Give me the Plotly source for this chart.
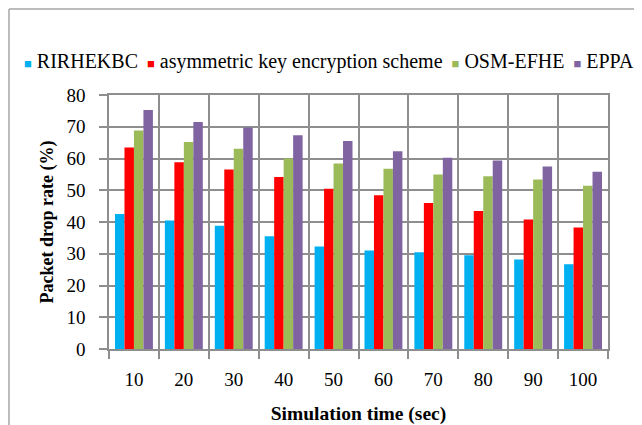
import plotly.graph_objects as go

categories = ["10", "20", "30", "40", "50", "60", "70", "80", "90", "100"]
series_names = ["RIRHEKBC", "asymmetric key encryption scheme", "OSM-EFHE", "EPPA"]
rirhekbc = [42.5, 40.5, 38.8, 35.5, 32.3, 31.0, 30.5, 29.5, 28.2, 26.7]
asym_key = [63.5, 58.8, 56.5, 54.2, 50.5, 48.4, 46.0, 43.5, 40.8, 38.3]
osm_efhe = [68.8, 65.2, 63.1, 60.0, 58.4, 56.8, 55.0, 54.4, 53.4, 51.4]
eppa = [75.3, 71.5, 69.8, 67.3, 65.5, 62.3, 60.2, 59.4, 57.5, 55.8]
y_ticks = [0, 10, 20, 30, 40, 50, 60, 70, 80]
colors = ["#00B0F0", "#FF0000", "#9BBB59", "#8064A2"]

# the page body keeps its default 8px margin, so the figure is drawn 8px in
OFF = 8
W, H = 642 - OFF, 425 - OFF
L, R, T, B = 101, 34, 87, 76
PW, PH = W - L - R, H - T - B


def px(xs):
    return (xs - OFF - L) / PW


def py(ys):
    return (H - B - (ys - OFF)) / PH


FONT = "Liberation Serif, Times New Roman, serif"

fig = go.Figure()
for name, vals, col in zip(series_names, [rirhekbc, asym_key, osm_efhe, eppa], colors):
    fig.add_trace(go.Bar(x=categories, y=vals, name=name, marker=dict(color=col, line=dict(width=0)),
                         showlegend=False))

legend_text = "\u2009 ".join(
    f'<span style="color:{c};font-size:13px">■</span> {n}' for n, c in zip(series_names, colors)
)

fig.update_layout(
    width=W, height=H,
    margin=dict(l=L, r=R, t=T, b=B),
    paper_bgcolor="white", plot_bgcolor="white",
    barmode="group", bargap=0.24, bargroupgap=0,
    font=dict(family=FONT, size=19, color="black"),
    xaxis=dict(
        type="category", tickson="boundaries", showgrid=True, gridcolor="#8E8E8E", gridwidth=1.5,
        showline=True, linecolor="#8E8E8E", linewidth=1.5, mirror=True, automargin=False,
        ticks="outside", ticklen=8, tickcolor="#8E8E8E", tickwidth=1.5,
        ticklabelstandoff=12, tickfont=dict(family=FONT, size=19),
        title=dict(text="<b>Simulation time (sec)</b>", standoff=20, font=dict(family=FONT, size=19.5)),
    ),
    yaxis=dict(
        range=[0, 80], tickvals=y_ticks, showgrid=True, gridcolor="#8E8E8E", gridwidth=1.5,
        showline=True, linecolor="#8E8E8E", linewidth=1.5, mirror=True, automargin=False,
        ticks="outside", ticklen=8, tickcolor="#8E8E8E", tickwidth=1.5,
        ticklabelstandoff=10, zeroline=False, tickfont=dict(family=FONT, size=19),
        title=dict(text="<b>Packet drop rate (%)</b>", standoff=8, font=dict(family=FONT, size=18)),
    ),
    annotations=[
        dict(text=legend_text, xref="paper", yref="paper", x=px(329), y=py(61),
             xanchor="center", yanchor="middle", showarrow=False, font=dict(family=FONT, size=20)),
    ],
    shapes=[
        dict(type="line", xref="paper", yref="paper", x0=px(9), x1=px(9), y0=py(9), y1=py(440),
             line=dict(color="#A6A6A6", width=1.5)),
        dict(type="line", xref="paper", yref="paper", x0=px(9), x1=px(660), y0=py(9), y1=py(9),
             line=dict(color="#A6A6A6", width=1.5)),
    ],
)

fig.write_html("out.html")
